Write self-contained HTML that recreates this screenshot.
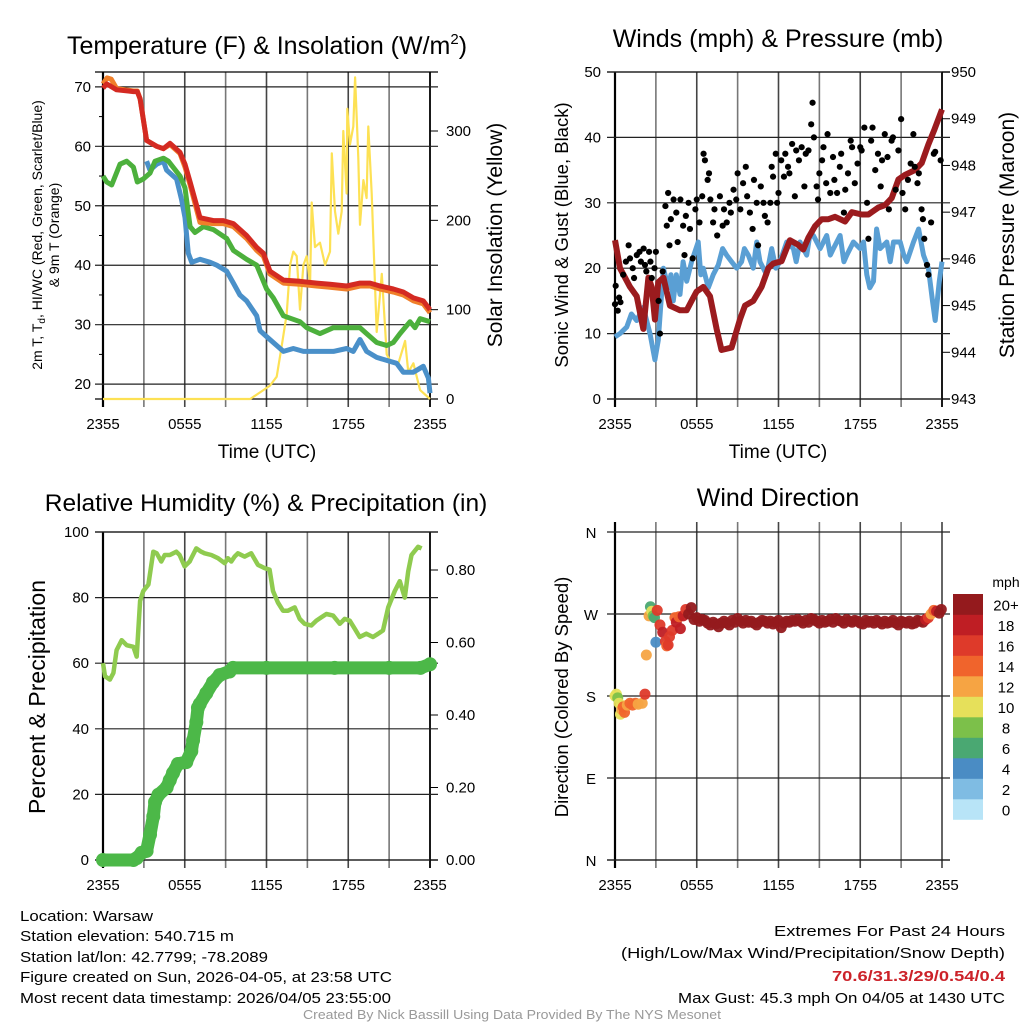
<!DOCTYPE html>
<html><head><meta charset="utf-8"><title>Mesonet Meteogram</title>
<style>
html,body{margin:0;padding:0;background:#fff;}
svg{display:block;font-family:"Liberation Sans",Arial,sans-serif;}
</style></head>
<body>
<svg id="chart" width="1024" height="1024" viewBox="0 0 1024 1024" xmlns="http://www.w3.org/2000/svg">
<rect x="0" y="0" width="1024" height="1024" fill="#fff"/>
<!-- titles -->
<text x="267" y="54" font-size="25" text-anchor="middle">Temperature (F) &amp; Insolation (W/m<tspan font-size="15" dy="-10">2</tspan><tspan dy="10">)</tspan></text>
<text x="778" y="47" font-size="25" text-anchor="middle">Winds (mph) &amp; Pressure (mb)</text>
<text x="266" y="511" font-size="24.5" text-anchor="middle">Relative Humidity (%) &amp; Precipitation (in)</text>
<text x="778" y="506" font-size="25" text-anchor="middle">Wind Direction</text>
<!-- axis titles -->
<text x="267" y="458" font-size="19" text-anchor="middle">Time (UTC)</text>
<text x="778" y="458" font-size="19" text-anchor="middle">Time (UTC)</text>
<text transform="translate(42,235) rotate(-90)" font-size="14" text-anchor="middle">2m T, T<tspan font-size="10" dy="3">d</tspan><tspan dy="-3">, HI/WC (Red, Green, Scarlet/Blue)</tspan></text>
<text transform="translate(59,235) rotate(-90)" font-size="14" text-anchor="middle">&amp; 9m T (Orange)</text>
<text transform="translate(502,235) rotate(-90)" font-size="21" text-anchor="middle">Solar Insolation (Yellow)</text>
<text transform="translate(568,235) rotate(-90)" font-size="18.5" text-anchor="middle">Sonic Wind &amp; Gust (Blue, Black)</text>
<text transform="translate(1014,235) rotate(-90)" font-size="21" text-anchor="middle">Station Pressure (Maroon)</text>
<text transform="translate(45,697) rotate(-90)" font-size="23" text-anchor="middle">Percent &amp; Precipitation</text>
<text transform="translate(568,697) rotate(-90)" font-size="18.5" text-anchor="middle">Direction (Colored By Speed)</text>
<!-- footer -->
<g font-size="15">
<text x="20" y="921" textLength="133" lengthAdjust="spacingAndGlyphs">Location: Warsaw</text>
<text x="20" y="941" textLength="214" lengthAdjust="spacingAndGlyphs">Station elevation: 540.715 m</text>
<text x="20" y="962" textLength="248" lengthAdjust="spacingAndGlyphs">Station lat/lon: 42.7799; -78.2089</text>
<text x="20" y="982" textLength="372" lengthAdjust="spacingAndGlyphs">Figure created on Sun, 2026-04-05, at 23:58 UTC</text>
<text x="20" y="1003" textLength="371" lengthAdjust="spacingAndGlyphs">Most recent data timestamp: 2026/04/05 23:55:00</text>
</g>
<g font-size="15" text-anchor="end">
<text x="1005" y="936" textLength="231" lengthAdjust="spacingAndGlyphs">Extremes For Past 24 Hours</text>
<text x="1005" y="958" textLength="384" lengthAdjust="spacingAndGlyphs">(High/Low/Max Wind/Precipitation/Snow Depth)</text>
<text x="1005" y="981" textLength="173" lengthAdjust="spacingAndGlyphs" fill="#cc2229" font-weight="bold">70.6/31.3/29/0.54/0.4</text>
<text x="1005" y="1003" textLength="327" lengthAdjust="spacingAndGlyphs">Max Gust: 45.3 mph On 04/05 at 1430 UTC</text>
</g>
<text x="512" y="1019" font-size="12.5" fill="#999" text-anchor="middle" textLength="418" lengthAdjust="spacingAndGlyphs">Created By Nick Bassill Using Data Provided By The NYS Mesonet</text>
<!-- colorbar -->
<text x="1006" y="587" font-size="14" text-anchor="middle">mph</text>
<g id="cbar"></g>
<g id="plots"></g>
</svg>
<script>
// ---- shared ----
const timeTicks = ["2355","0555","1155","1755","2355"];
// ---- panel 1 data ----
const redT = [0,0.27,1.0,2.23,2.52,2.72,3.2,3.94,4.43,4.92,5.65,6.02,6.39,7.12,8.1,8.83,9.57,10.54,11.28,11.77,12.26,13.24,14.46,15.68,16.66,17.88,18.86,19.6,20.33,21.31,22.04,22.78,23.51,24];
const redV = [69.8,70.5,69.5,69.2,69.2,68,61,60,59.6,60.5,59,57,54,48,47.5,47.5,47,45,43,42,39,37.5,37.3,37,36.8,36.5,37,37,36.5,36,35.5,34.5,34,32.5,31.5];
const orangeT = [0,0.3,0.6,1.0,2.23,2.52,2.72,3.2,3.94,4.43,4.92,5.65,6.02,6.39,7.12,8.1,8.83,9.57,10.54,11.28,11.77,12.26,13.24,14.46,15.68,16.66,17.88,18.86,19.6,20.33,21.31,22.04,22.78,23.51,24];
const orangeV = [70.5,71.5,71.3,69.7,69.3,69.3,68,61,60,59.6,60.3,58.8,56.5,53.5,47.2,47,47,46.5,44.5,42.5,41.5,38.5,37,36.8,36.5,36.3,36,36.5,36.5,36,35.5,35,34,33.5,32,31];
const greenT = [0,0.27,0.64,1.25,1.74,2.23,2.52,2.96,3.45,3.82,4.43,4.8,5.65,6.02,6.39,6.75,7.37,8.1,9.08,9.57,10.54,11.28,12.01,12.5,13.24,14.46,14.95,15.93,16.91,17.88,18.86,19.35,20.09,20.82,21.31,21.8,22.53,22.9,23.27,24];
const greenV = [55,54,53.5,57,57.5,56.5,54,54.5,55.5,57.5,58,57.5,55,53,46.5,45.5,46.5,46,44.5,42.5,41,40,36,34.5,31.5,30.5,29.5,28.5,29.5,29.5,29.5,28.5,27,26.5,27,28.5,30.5,29.5,31,30.5];
const blueT = [3.2,3.45,3.94,4.43,4.67,5.4,5.77,6.02,6.26,6.51,7.12,7.86,8.35,9.08,9.57,10.05,10.54,11.28,11.52,12.01,12.75,13.24,13.97,14.71,15.44,16.18,16.91,17.88,18.37,18.86,19.35,20.09,20.82,21.55,22.04,22.78,23.51,23.88,24];
const blueV = [57.5,56,57,57.5,56,54.5,51,48,42,40.5,41,40.5,40,39,37,35,34,31.5,29,28,26.5,25.5,26,25.5,25.5,25.5,25.5,26,25.5,27.5,25.5,24.5,24,23.5,22,22,23,21,18.5];
const solarT = [0,10.8,11.77,12.26,12.75,13.12,13.48,13.73,13.97,14.22,14.46,14.71,14.95,15.2,15.32,15.56,15.93,16.3,16.66,16.79,17.03,17.27,17.52,17.64,17.88,17.93,18.13,18.37,18.5,18.74,18.86,19.11,19.35,19.47,19.72,20.09,20.46,20.82,21.19,21.68,22.17,22.41,22.78,23.27,24];
const solarV = [0,0,10,15,25,60,95,150,165,160,100,150,160,130,220,170,175,150,165,275,210,185,210,300,230,325,285,305,360,270,195,245,225,305,230,75,140,50,40,40,65,30,40,10,0,0];
const p1LeftTicks = [20,30,40,50,60,70];
const p1RightTicks = [0,100,200,300];
// ---- panel 2 data ----
const windT = [0,0.37,0.86,1.2,1.59,2.08,2.57,2.93,3.18,3.55,3.91,4.1,4.28,4.5,4.77,5.0,5.26,5.62,6.11,6.3,6.48,6.85,7.21,7.58,7.9,8.19,8.56,8.93,9.29,9.5,9.78,10.15,10.4,10.64,11.13,11.5,11.8,12.11,12.6,13.09,13.3,13.58,14.07,14.3,14.56,15.05,15.54,15.8,16.03,16.52,16.8,17.01,17.5,17.99,18.24,18.48,18.7,18.97,19.2,19.46,19.95,20.2,20.44,20.93,21.2,21.42,21.91,22.28,22.64,23.0,23.3,23.5,23.8,24];
const windV = [9.5,10,11,13,12,14,10,6,9,20,17,19,15,19,16,21,18,21,24,19,20,17,19,20.5,23,22,21,20,21,23,22,20,24,21,19,23,20,21,24,23,21,24,22,25,25,23,25,22,23,25,21,22,24,23,24,19,17,18,26,23,24,21,24,24,22,21,24,26,22,20,15,12,18,21];
const presT = [0,0.37,1.1,1.59,2.08,2.45,2.69,2.93,3.18,3.55,4.03,4.77,5.26,5.62,5.99,6.48,6.97,7.46,7.82,8.56,9.17,9.54,10.15,10.76,11.25,11.62,12.23,12.84,13.45,13.82,14.19,14.68,15.17,15.66,16.15,16.89,17.38,18.11,18.6,18.84,19.33,19.82,20.31,20.8,21.29,22.02,22.51,23.0,23.42,24];
const presV = [946.4,945.8,945.4,945.2,944.5,945.6,945.4,944.7,945.5,945.6,945,944.9,944.9,945.1,945.3,945.4,945.2,944.5,944.05,944.1,944.7,945,945.1,945.4,945.8,945.9,945.95,946.4,946.3,946.2,946.45,946.7,946.85,946.85,946.9,946.8,947,946.95,946.95,947,947.1,947.15,947.3,947.7,947.8,947.9,948.05,948.45,948.75,949.2];
const gustT = [0,0.05,0.2,0.3,0.4,0.6,0.8,1.0,1.1,1.3,1.4,1.6,1.8,1.9,2.1,2.2,2.3,2.5,2.6,2.7,2.9,3.0,3.2,3.3,3.5,3.7,3.8,3.9,4.0,4.1,4.3,4.5,4.6,4.8,5.0,5.1,5.2,5.4,5.5,5.7,5.9,6.0,6.2,6.4,6.5,6.6,6.8,6.9,7.0,7.2,7.3,7.5,7.7,7.9,8.0,8.2,8.4,8.5,8.7,8.9,9.0,9.2,9.4,9.6,9.7,9.9,10.1,10.2,10.4,10.5,10.7,10.9,11.0,11.2,11.4,11.5,11.6,11.8,11.9,12.0,12.2,12.4,12.5,12.7,12.8,13.0,13.2,13.3,13.5,13.7,13.9,14.0,14.2,14.4,14.5,14.6,14.8,14.9,15.0,15.2,15.3,15.5,15.6,15.8,16.0,16.1,16.3,16.5,16.6,16.8,16.9,17.1,17.3,17.4,17.6,17.8,18.0,18.1,18.3,18.5,18.6,18.8,18.9,19.1,19.3,19.5,19.6,19.8,20.0,20.1,20.3,20.4,20.6,20.8,21.0,21.1,21.3,21.5,21.7,21.9,22.0,22.2,22.3,22.5,22.6,22.7,22.9,23.0,23.2,23.4,23.5,23.9];
const gustV = [14.5,17.3,13.5,15.5,14.8,19,21,23.5,21.5,20,18.5,22,22.5,21,23,20.5,19.5,22.5,21,18.5,20,22.5,15,10,19.5,29.5,26.5,31.5,23.5,27.5,30.5,28.5,24,30.5,26.5,22,28,30,26,21.5,29,30.5,27,31,37.5,36.5,33.5,34.5,30.5,27,29,25,31,26.5,29,27,30,28.5,32,30.5,34.5,29,33,35.5,31,28.5,26,33.5,30,23.5,32.5,30,28,27,30,35.5,34,37.5,30,31.5,36.5,34,37.5,35.5,34.5,39,31,38,36.5,38.5,32.5,37.5,38,42,45.3,40,32.5,30.5,34.5,36.5,38.5,33,40.5,31.5,37,33.5,31.5,35.5,37.5,28.5,32,34.5,39.5,38.5,33,36,38.5,38,41.5,30,24.5,39.5,41.5,35,37.5,32.5,36.5,40.5,37,29,39.5,40,32,38,42.8,31.5,29,33.5,36,40.5,35.5,33,34.5,29,27.5,24.5,20.5,19,27,37.5,37.8,36.5];
const p2LeftTicks = [0,10,20,30,40,50];
const p2RightTicks = [943,944,945,946,947,948,949,950];
// ---- panel 3 data ----
const rhT = [0,0.15,0.51,0.76,1.0,1.37,1.74,2.23,2.47,2.72,2.96,3.33,3.69,3.94,4.28,4.53,4.9,5.38,5.62,5.99,6.36,6.48,6.85,7.21,7.46,7.95,8.44,8.93,9.17,9.42,9.66,9.9,10.39,10.88,11.37,11.86,12.23,12.48,12.84,13.21,13.58,14.07,14.44,14.8,15.29,15.66,16.03,16.4,16.89,17.38,17.74,18.11,18.48,18.84,19.33,19.82,20.2,20.55,20.93,21.42,21.78,22.15,22.4,22.64,23.13,23.38,24];
const rhV = [60,56,55,57,64,67,65.5,65,62,79,82,84,94,93.5,91,93,93,94,93,89.5,91,92,95,94,93.5,93,92,90.5,92,91,92.5,93.5,92.5,93.5,90,89,88.5,82,78.5,76,76,77,73.5,72,71.5,73,74,75,74.5,72,73.5,73,70.5,68,69,68,69,70,77,82,85,80,88,93,95.5,95];
const prT = [0,2.23,2.47,2.84,3.2,3.45,3.69,3.82,4.07,4.67,4.9,5.14,5.5,6.11,6.48,6.61,6.85,6.97,7.1,7.58,8.07,8.56,9.29,9.54,12,17,21,23.3,24];
const prV = [0,0,0.005,0.02,0.025,0.07,0.12,0.16,0.18,0.2,0.22,0.24,0.265,0.27,0.3,0.33,0.38,0.42,0.43,0.46,0.49,0.51,0.52,0.53,0.53,0.53,0.53,0.53,0.54];
const p3LeftTicks = [0,20,40,60,80,100];
const p3RightTicks = ["0.00","0.20","0.40","0.60","0.80"];
// ---- panel 4 data ----
const dirT = [0,0.1,0.2,0.3,0.4,0.5,0.6,0.7,0.9,1.1,1.3,1.5,1.7,2.0,2.2,2.3,2.5,2.6,2.7,2.8,2.9,3.0,3.1,3.3,3.5,3.7,3.8,3.9,4.0,4.2,4.4,4.5,4.7,4.8,5.0,5.2,5.4,5.6,5.8,6.0,6.2,6.4,6.6,6.8,7.0,7.2,7.4,7.6,7.8,8.0,8.2,8.4,8.6,8.8,9.0,9.2,9.4,9.6,9.8,10.0,10.2,10.4,10.6,10.8,11.0,11.2,11.4,11.6,11.8,12.0,12.2,12.4,12.6,12.8,13.0,13.2,13.4,13.6,13.8,14.0,14.2,14.4,14.6,14.8,15.0,15.2,15.4,15.6,15.8,16.0,16.2,16.4,16.6,16.8,17.0,17.2,17.4,17.6,17.8,18.0,18.2,18.4,18.6,18.8,19.0,19.2,19.4,19.6,19.8,20.0,20.2,20.4,20.6,20.8,21.0,21.2,21.4,21.6,21.8,22.0,22.2,22.4,22.6,22.8,23.0,23.2,23.4,23.6,23.8,23.95];
const dirV = [180,182,178,172,160,165,168,162,170,172,170,172,171,172,182,225,268,278,273,268,266,239,274,258,250,240,235,236,245,252,266,261,267,254,268,275,270,277,264,266,262,264,263,260,258,261,259,256,260,262,260,258,263,261,265,262,260,263,261,262,260,258,261,263,262,260,262,259,261,263,255,260,262,261,263,262,264,262,260,263,261,265,264,262,260,263,261,262,264,261,265,263,262,260,264,262,261,263,262,260,259,263,261,262,260,263,261,259,262,260,261,263,260,258,262,261,260,262,259,260,263,262,261,264,266,270,274,273,271,275,278];
const dirS = [10,10,9,10,10,13,14,15,13,14,15,14,13,13,16,12,12,7,10,8,7,4,16,17,19,17,14,17,16,17,14,19,14,18,19,16,20,20,20,20,20,20,20,20,20,20,20,20,20,20,20,20,20,20,20,20,20,20,20,20,20,20,20,20,20,20,20,20,20,20,20,20,20,20,20,20,20,20,20,20,20,20,20,20,20,20,20,20,20,20,20,20,20,20,20,20,20,20,20,20,20,20,20,20,20,20,20,20,20,20,20,20,20,20,20,20,20,20,20,20,20,20,20,18,16,12,14,18,20,20];
const dirTickLabels = ["N","E","S","W","N"];
const cbarLabels = ["0","2","4","6","8","10","12","14","16","18","20+"];
const cbarColors = ["#b8e4f7","#7fbce3","#4a8cc4","#4aa872","#7cc04a","#e6e05a","#f6a443","#f0642c","#de3a2a","#bf1e24","#941a1d"];

// ---- rendering ----
const NS = "http://www.w3.org/2000/svg";
const root = document.getElementById("plots");
function mk(tag, attrs, name, parent) {
  const e = document.createElementNS(NS, tag);
  for (const k in attrs) e.setAttribute(k, attrs[k]);
  
  
  (parent || root).appendChild(e);
  return e;
}
function txt(x, y, s, size, anchor, name, parent) {
  const e = mk("text", {x: x, y: y, "font-size": size, "text-anchor": anchor}, name, parent);
  e.textContent = s;
  return e;
}
function linePath(ts, vs, xf, yf) {
  return ts.map((t, i) => (i ? "L" : "M") + xf(t).toFixed(1) + "," + yf(vs[i]).toFixed(1)).join("");
}
function frame(P, box, name) {
  const g = mk("g", {}, name);
  for (let h = 3; h < 24; h += 3) {
    const x = P.x(h);
    mk("line", {x1: x, y1: P.T - (box ? 0 : 10), x2: x, y2: P.B + 8, stroke: h % 6 === 0 ? "#444" : "#777", "stroke-width": 1.6}, "x-gridline", g);
  }
  mk("line", {x1: P.L, y1: P.T - (box ? 0 : 10), x2: P.L, y2: P.B + 8, stroke: "#000", "stroke-width": 2.2}, "left-axis-line", g);
  mk("line", {x1: P.R, y1: P.T - (box ? 0 : 10), x2: P.R, y2: P.B + 8, stroke: box ? "#000" : "#555", "stroke-width": 1.8}, "right-axis-line", g);
  if (box) mk("line", {x1: P.L - 8, y1: P.T, x2: P.R + 8, y2: P.T, stroke: "#000", "stroke-width": 1.3}, "top-axis-line", g);
  mk("line", {x1: P.L - 8, y1: P.B, x2: P.R + 8, y2: P.B, stroke: "#000", "stroke-width": 1.3}, "bottom-axis-line", g);
  timeTicks.forEach((s, i) => {
    txt(P.x(i * 6), P.B + 30, s, 15, "middle", "x-tick-label", g);
  });
  return g;
}
function hgrid(P, y, g) {
  mk("line", {x1: P.L - 8, y1: y, x2: P.R + 8, y2: y, stroke: "#222", "stroke-width": 1.2}, "y-gridline", g);
}
function xf(L, R) { return t => L + t / 24 * (R - L); }

// Panel 1
(function () {
  const P = {L: 103, R: 430, T: 72, B: 399};
  P.x = xf(P.L, P.R);
  const yT = v => P.B - (v - 17.5) * (327 / 55);
  const yI = v => P.B - v * 0.8933;
  const g = frame(P, true, "temperature-panel");
  p1LeftTicks.forEach(v => {
    hgrid(P, yT(v), g);
    txt(P.L - 12, yT(v) + 5, String(v), 15, "end", "left-tick-label", g);
  });
  for (let v = 25; v < 72; v += 10) mk("line", {x1: P.L - 4, y1: yT(v), x2: P.L, y2: yT(v), stroke: "#000"}, "minor-tick", g);
  p1RightTicks.forEach(v => {
    mk("line", {x1: P.R, y1: yI(v), x2: P.R + 8, y2: yI(v), stroke: "#000"}, "right-tick", g);
    txt(P.R + 16, yI(v) + 5, String(v), 15, "start", "right-tick-label", g);
  });
  mk("path", {d: linePath(solarT, solarV, P.x, yI), fill: "none", stroke: "#fde154", "stroke-width": 2.2, "stroke-linejoin": "round"}, "solar-insolation-line", g);
  mk("path", {d: linePath(blueT, blueV, P.x, yT), fill: "none", stroke: "#4a90c9", "stroke-width": 5, "stroke-linejoin": "round"}, "wind-chill-line", g);
  mk("path", {d: linePath(greenT, greenV, P.x, yT), fill: "none", stroke: "#4cb03c", "stroke-width": 5, "stroke-linejoin": "round"}, "dewpoint-line", g);
  mk("path", {d: linePath(orangeT, orangeV, P.x, yT), fill: "none", stroke: "#f07f2a", "stroke-width": 5, "stroke-linejoin": "round"}, "temp-9m-line", g);
  mk("path", {d: linePath(redT, redV, P.x, yT), fill: "none", stroke: "#d42a22", "stroke-width": 5, "stroke-linejoin": "round"}, "temp-2m-line", g);
})();

// Panel 2
(function () {
  const P = {L: 615, R: 942, T: 72, B: 399};
  P.x = xf(P.L, P.R);
  const yW = v => P.B - v * 6.54;
  const yP = p => P.B - (p - 943) * 46.71;
  const g = frame(P, true, "winds-panel");
  p2LeftTicks.forEach(v => {
    hgrid(P, yW(v), g);
    txt(P.L - 14, yW(v) + 5, String(v), 15, "end", "left-tick-label", g);
  });
  p2RightTicks.forEach(v => {
    mk("line", {x1: P.R, y1: yP(v), x2: P.R + 8, y2: yP(v), stroke: "#000"}, "right-tick", g);
    txt(P.R + 9, yP(v) + 5, String(v), 15, "start", "right-tick-label", g);
  });
  mk("path", {d: linePath(windT, windV, P.x, yW), fill: "none", stroke: "#5a9fd4", "stroke-width": 5, "stroke-linejoin": "round"}, "sonic-wind-line", g);
  mk("path", {d: linePath(presT, presV, P.x, yP), fill: "none", stroke: "#9b1b1e", "stroke-width": 6, "stroke-linejoin": "round"}, "pressure-line", g);
  gustT.forEach((t, i) => {
    mk("circle", {cx: P.x(t), cy: yW(gustV[i]), r: 3.1, fill: "#000"}, "gust-point", g);
  });
})();

// Panel 3
(function () {
  const P = {L: 103, R: 430, T: 532, B: 860};
  P.x = xf(P.L, P.R);
  const yRH = v => P.B - v * 3.28;
  const yPr = v => P.B - v * 362.5;
  const g = frame(P, true, "humidity-panel");
  p3LeftTicks.forEach(v => {
    hgrid(P, yRH(v), g);
    txt(P.L - 14, yRH(v) + 5, String(v), 15, "end", "left-tick-label", g);
  });
  p3RightTicks.forEach(s => {
    const v = parseFloat(s);
    mk("line", {x1: P.R, y1: yPr(v), x2: P.R + 8, y2: yPr(v), stroke: "#000"}, "right-tick", g);
    txt(P.R + 16, yPr(v) + 5, s, 15, "start", "right-tick-label", g);
  });
  mk("path", {d: linePath(rhT, rhV, P.x, yRH), fill: "none", stroke: "#8fcb4f", "stroke-width": 4.5, "stroke-linejoin": "round"}, "humidity-line", g);
  mk("path", {d: linePath(prT, prV, P.x, yPr), fill: "none", stroke: "#4cb848", "stroke-width": 13, "stroke-linejoin": "round", "stroke-linecap": "round"}, "precipitation-line", g);
  prT.forEach((t, i) => {
    mk("circle", {cx: P.x(t), cy: yPr(prV[i]), r: 7, fill: "#4cb848"}, "precipitation-point", g);
  });
})();

// Panel 4
(function () {
  const P = {L: 615, R: 942, T: 532, B: 860};
  P.x = xf(P.L, P.R);
  const yD = d => P.B - d / 360 * (P.B - P.T);
  const g = frame(P, false, "wind-direction-panel");
  dirTickLabels.forEach((s, i) => {
    const y = yD(i * 90);
    hgrid(P, y, g);
    txt(P.L - 24, y + 6, s, 15, "middle", "direction-tick-label", g);
  });
  const col = s => cbarColors[Math.max(0, Math.min(10, Math.floor(s / 2)))];
  dirT.forEach((t, i) => {
    mk("circle", {cx: P.x(t), cy: yD(dirV[i]), r: 5.5, fill: col(dirS[i]), "fill-opacity": 0.95}, "direction-point", g);
  });
})();

// colorbar
(function () {
  const g = document.getElementById("cbar");
  const top = 594, h = 20.5;
  cbarColors.forEach((c, i) => {
    const y = top + (10 - i) * h;
    mk("rect", {x: 953, y: y, width: 30, height: h + 0.3, fill: c}, "colorbar-swatch", g);
    txt(1006, y + h / 2 + 6, cbarLabels[i], 15, "middle", "colorbar-label", g);
  });
})();
</script>
</body></html>
